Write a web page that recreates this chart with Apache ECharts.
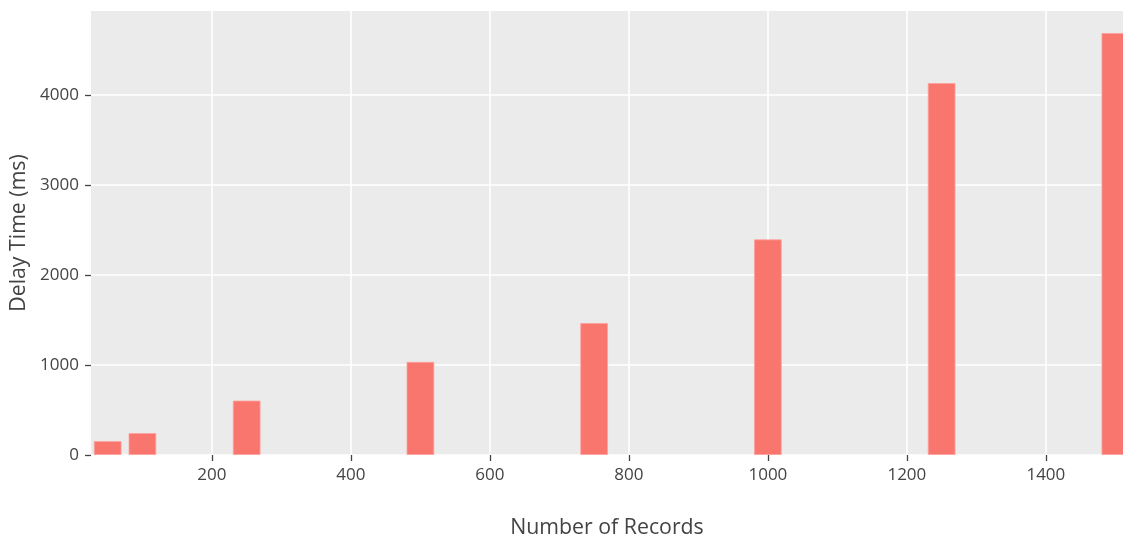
<!DOCTYPE html>
<html>
<head>
<meta charset="utf-8">
<script src="https://cdn.jsdelivr.net/npm/echarts@6/dist/echarts.min.js"></script>
<style>html,body{margin:0;padding:0;background:#fff;}#c{width:1123px;height:542px;}</style>
</head>
<body>
<div id="c"></div>
<script>
const records = [50, 100, 250, 500, 750, 1000, 1250, 1500];
const delays = [155, 244, 605, 1035, 1467, 2396, 4133, 4689];
const xTicks = [200, 400, 600, 800, 1000, 1200, 1400];
const yTicks = [0, 1000, 2000, 3000, 4000];

const chart = echarts.init(document.getElementById('c'), null, {renderer: 'canvas'});
const FONT = '"Open Sans", sans-serif';
const XMIN = 26, XMAX = 1511;
const gridLeft = 91, gridRight = 0;
const plotW = 1123 - gridLeft - gridRight;
const barUnits = 40;
const barPx = barUnits * plotW / (XMAX - XMIN);

chart.setOption({
  animation: false,
  backgroundColor: '#fff',
  grid: {left: gridLeft, right: gridRight, top: 11, bottom: 87, show: true, backgroundColor: '#EBEBEB', borderWidth: 0,
         containLabel: false, outerBoundsMode: 'none'},
  xAxis: {
    type: 'value', min: XMIN, max: XMAX,
    name: 'Number of Records', nameLocation: 'middle', nameGap: 62,
    nameTextStyle: {color: '#444', fontSize: 21.3, fontFamily: FONT},
    axisLine: {show: false},
    axisTick: {show: true, inside: false, length: 6, lineStyle: {color: '#444', width: 1.3}, customValues: xTicks},
    axisLabel: {color: '#444', fontSize: 17, fontFamily: FONT, margin: 12, customValues: xTicks, formatter: v => String(v)},
    splitLine: {show: true, lineStyle: {color: '#fff', width: 1.6}}
  },
  yAxis: {
    type: 'value', min: 0, max: 4933,
    name: 'Delay Time (ms)', nameLocation: 'middle', nameGap: 60,
    nameTextStyle: {color: '#444', fontSize: 21.3, fontFamily: FONT},
    axisLine: {show: false},
    axisTick: {show: true, inside: false, length: 6, lineStyle: {color: '#444', width: 1.3}, customValues: yTicks},
    axisLabel: {color: '#444', fontSize: 17, fontFamily: FONT, margin: 12, customValues: yTicks, formatter: v => String(v)},
    splitLine: {show: true, lineStyle: {color: '#fff', width: 1.6}}
  },
  series: [{
    type: 'bar',
    data: records.map((r, i) => [r, delays[i]]),
    barWidth: barPx,
    clip: true,
    itemStyle: {color: '#F8766D', borderColor: 'rgba(255,160,155,0.8)', borderWidth: 1}
  }]
});
</script>
</body>
</html>
